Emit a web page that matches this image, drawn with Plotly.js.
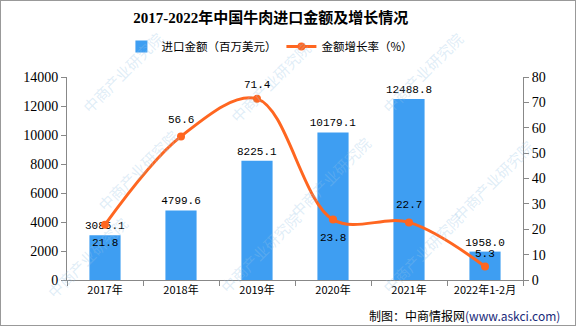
<!DOCTYPE html>
<html><head><meta charset="utf-8">
<script src="https://cdn.plot.ly/plotly-3.0.1.min.js"></script>
<style>
html,body{margin:0;padding:0;background:#fff;}
#wrap{position:relative;width:576px;height:326px;}
#chart{width:576px;height:326px;}
#border{position:absolute;left:0;top:0;width:576px;height:326px;box-sizing:border-box;border:1px solid #999;pointer-events:none;}
</style></head>
<body>
<div id="wrap"><div id="chart"></div><div id="border"></div></div>
<script>
const categories = ['2017年','2018年','2019年','2020年','2021年','2022年1-2月'];
const importValue = [3085.1, 4799.6, 8225.1, 10179.1, 12488.8, 1958.0];
const growthRate = [21.8, 56.6, 71.4, 23.8, 22.7, 5.3];
const barLabels = ['3085.1','4799.6','8225.1','10179.1','12488.8','1958.0'];
const rateLabels = ['21.8','56.6','71.4','23.8','22.7','5.3'];
const rateShift = [-18, 16, 14, -18, 17, 13];

const numFont = 'Liberation Mono, DejaVu Sans Mono, monospace';

const traces = [
  {type:'bar', name:'进口金额（百万美元）', x:categories, y:importValue,
   marker:{color:'#3E9EF2'}, width:0.41,
   text:barLabels, textposition:'outside', cliponaxis:false, constraintext:'none',
   textfont:{family:numFont, size:11, color:'#000'}, hoverinfo:'none'},
  {type:'scatter', mode:'lines+markers', name:'金额增长率（%）', x:categories, y:growthRate, yaxis:'y2',
   line:{color:'#FF6620', width:3, shape:'spline', smoothing:1},
   marker:{color:'#FF6620', size:8}, cliponaxis:false, hoverinfo:'none'}
];

const rateAnn = categories.map((c,i)=>({xref:'x', yref:'y2', x:c, y:growthRate[i], yshift:rateShift[i],
  text:rateLabels[i], showarrow:false, font:{family:numFont, size:11, color:'#000'}}));

const wm = [];
const wmPos = [[75,25],[270,35],[470,25],[90,170],[330,130],[540,180],[40,305],[260,300],[470,300]];
wmPos.forEach(p=>wm.push({xref:'paper',yref:'paper',
  x:(p[0]-67)/456, y:(280-p[1])/203, text:'中商产业研究院', showarrow:false, textangle:-45,
  font:{family:'Noto Sans CJK SC', size:15, color:'rgba(150,195,230,0.3)'}}));

const layout = {
  width:576, height:326,
  margin:{l:67, r:53, t:77, b:46},
  paper_bgcolor:'#fff', plot_bgcolor:'rgba(0,0,0,0)',
  title:{text:'<b>2017-2022年中国牛肉进口金额及增长情况</b>', x:0.47, xanchor:'center', y:0.945, yanchor:'middle',
    font:{family:'Liberation Serif, Noto Sans CJK SC, serif', size:15, color:'#000'}},
  showlegend:true,
  legend:{orientation:'h', x:0.445, xanchor:'center', y:1.15, yanchor:'middle',
    font:{family:'Noto Sans CJK SC', size:11.5, color:'#000'}, traceorder:'normal', itemwidth:30},
  xaxis:{type:'category', showline:true, linecolor:'#888', linewidth:1, ticks:'outside', tickson:'boundaries',
    ticklen:5, tickcolor:'#888', showgrid:false, zeroline:false, tickangle:0, automargin:false,
    tickfont:{family:'Noto Sans CJK SC', size:11, color:'#000'}},
  yaxis:{range:[0,14000], dtick:2000, tickformat:'d', showline:true, linecolor:'#888', ticks:'outside', ticklen:5, tickcolor:'#888',
    showgrid:false, zeroline:false, automargin:false, tickfont:{family:'Liberation Serif, serif', size:14, color:'#000'}},
  yaxis2:{range:[0,80], dtick:10, overlaying:'y', side:'right', showline:true, linecolor:'#888', ticks:'outside',
    ticklen:5, tickcolor:'#888', showgrid:false, zeroline:false, automargin:false,
    tickfont:{family:'Liberation Serif, serif', size:14, color:'#000'}},
  annotations: wm.concat(rateAnn).concat([
    {xref:'paper', yref:'paper', x:(562-67)/456, y:(280-315)/203, xanchor:'right', yanchor:'middle', showarrow:false,
     text:'制图：中商情报网<span style="color:#1a2a7a">(www.askci.com)</span>',
     font:{family:'Noto Sans CJK SC', size:12, color:'#000'}}
  ])
};
Plotly.newPlot('chart', traces, layout, {displayModeBar:false, staticPlot:true});
</script>
</body></html>
